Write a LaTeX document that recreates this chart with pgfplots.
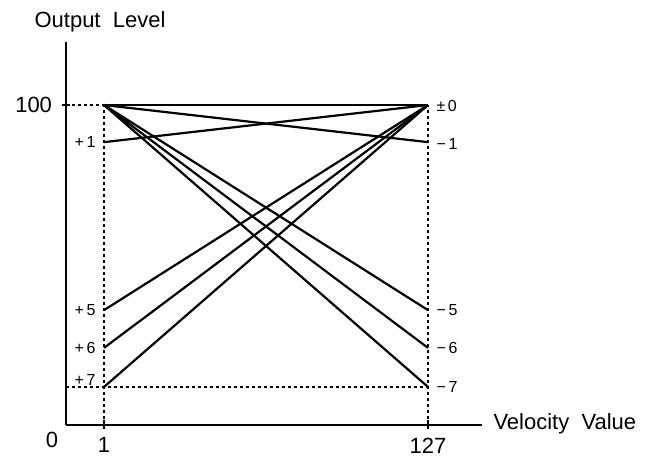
\documentclass[border=0pt]{standalone}
\usepackage{fontspec}
\setmainfont{Liberation Sans}
\usepackage{pgfplots}
\pgfplotsset{compat=1.18}
\newcommand{\bigfnt}{\fontsize{22bp}{26bp}\selectfont}
\newcommand{\smlfnt}{\fontsize{16bp}{19bp}\selectfont}
\begin{document}
\begin{tikzpicture}
\useasboundingbox (0bp,0bp) rectangle (648bp,462bp);
\begin{axis}[at={(66bp,37bp)}, anchor=south west, scale only axis,
  width=416bp, height=383bp,
  xmin=-13.8, xmax=148, ymin=0, ymax=119.7,
  axis lines=left, axis line style={-, line width=1.8bp},
  xtick={1,127}, ytick={100}, tick align=center, major tick length=9bp,
  tick style={line width=1.5bp, black},
  ticklabel style={font=\bigfnt},
  /pgf/number format/assume math mode=true,
  xticklabel style={yshift=-7bp, inner sep=1bp},
  yticklabel style={xshift=-6bp},
  clip=false]
% guide lines
\addplot[black, line width=1.6bp, dash pattern=on 3bp off 3bp] coordinates {(-13.8,100) (1,100)};
\addplot[black, line width=1.6bp, dash pattern=on 3bp off 3bp] coordinates {(1,0) (1,100)};
\addplot[black, line width=1.6bp, dash pattern=on 3bp off 3bp] coordinates {(127,0) (127,100)};
\addplot[black, line width=1.6bp, dash pattern=on 3bp off 3bp] coordinates {(-13.8,11.9) (127,11.9)};
% curves
\addplot[black, line width=2.2bp] coordinates {(1,100) (127,100)};
\addplot[black, line width=2.2bp] coordinates {(1,100) (127,88.4)};
\addplot[black, line width=2.2bp] coordinates {(1,100) (127,35.9)};
\addplot[black, line width=2.2bp] coordinates {(1,100) (127,24.1)};
\addplot[black, line width=2.2bp] coordinates {(1,100) (127,11.9)};
\addplot[black, line width=2.2bp] coordinates {(1,88.4) (127,100)};
\addplot[black, line width=2.2bp] coordinates {(1,35.9) (127,100)};
\addplot[black, line width=2.2bp] coordinates {(1,24.1) (127,100)};
\addplot[black, line width=2.2bp] coordinates {(1,11.9) (127,100)};
% value labels
\node[anchor=east, font=\smlfnt, xshift=-5bp] at (axis cs:1,88.4) {+\,1};
\node[anchor=east, font=\smlfnt, xshift=-5bp] at (axis cs:1,35.9) {+\,5};
\node[anchor=east, font=\smlfnt, xshift=-5bp] at (axis cs:1,24.1) {+\,6};
\node[anchor=east, font=\smlfnt, xshift=-5bp, yshift=7bp] at (axis cs:1,11.9) {+\,7};
\node[anchor=west, font=\smlfnt, xshift=5bp, yshift=-1bp] at (axis cs:127,100) {±\,0};
\node[anchor=west, font=\smlfnt, xshift=5bp, yshift=-2bp] at (axis cs:127,88.4) {−\,1};
\node[anchor=west, font=\smlfnt, xshift=5bp] at (axis cs:127,35.9) {−\,5};
\node[anchor=west, font=\smlfnt, xshift=5bp] at (axis cs:127,24.1) {−\,6};
\node[anchor=west, font=\smlfnt, xshift=5bp] at (axis cs:127,11.9) {−\,7};
\end{axis}
\node[font=\bigfnt] at (100bp,440bp) {Output\ \ Level};
\node[font=\bigfnt, anchor=west] at (490bp,38bp) {Velocity\ \ Value};
\node[font=\bigfnt] at (52bp,22bp) {0};
\end{tikzpicture}
\end{document}
